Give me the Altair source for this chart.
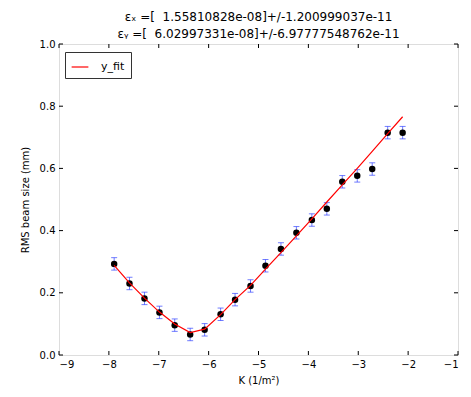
import altair as alt
import pandas as pd

# data
k_vals = [-7.894, -7.587, -7.286, -6.986, -6.68, -6.37, -6.08, -5.76, -5.47, -5.16,
          -4.86, -4.55, -4.24, -3.93, -3.63, -3.32, -3.02, -2.72, -2.41, -2.11]
rms_vals = [0.293, 0.230, 0.182, 0.137, 0.096, 0.066, 0.081, 0.131, 0.178, 0.222,
            0.287, 0.341, 0.393, 0.434, 0.470, 0.557, 0.576, 0.598, 0.715, 0.715]
fit_vals = [0.288, 0.232, 0.183, 0.138, 0.100, 0.072, 0.083, 0.130, 0.178, 0.224,
            0.276, 0.329, 0.383, 0.438, 0.492, 0.547, 0.600, 0.655, 0.712, 0.766]
err_vals = [0.02] * 20

x_ticks = [-9, -8, -7, -6, -5, -4, -3, -2, -1]
y_ticks = [0.0, 0.2, 0.4, 0.6, 0.8, 1.0]

title_lines = ["εₓ =[\u00a0 1.55810828e-08]+/-1.200999037e-11",
               "εᵧ =[\u00a0 6.02997331e-08]+/-6.97777548762e-11"]

W, H = 399, 311
FONT = "DejaVu Sans"

df = pd.DataFrame({"K": k_vals, "rms": rms_vals, "fit": fit_vals, "err": err_vals})
df["lo"] = df["rms"] - df["err"]
df["hi"] = df["rms"] + df["err"]
df["series"] = "y_fit"

xs = alt.Scale(domain=[-9, -1], nice=False, zero=False)
ys = alt.Scale(domain=[0, 1.0], nice=False, zero=False)

xaxis = alt.Axis(values=x_ticks, format="d", ticks=False, grid=False, domain=False,
                 labelFont=FONT, labelFontSize=10, labelColor="black", labelPadding=4,
                 title="K (1/m²)", titleFont=FONT, titleFontSize=10, titleFontWeight="normal",
                 titleColor="black", titlePadding=6)
yaxis = alt.Axis(values=y_ticks, format=".1f", ticks=False, grid=False, domain=False,
                 labelFont=FONT, labelFontSize=10, labelColor="black", labelPadding=4,
                 title="RMS beam size (mm)", titleFont=FONT, titleFontSize=10,
                 titleFontWeight="normal", titleColor="black", titlePadding=9)

base = alt.Chart(df)

ERR_COLOR = "#3344ff"
bars = base.mark_rule(color=ERR_COLOR, opacity=0.7, strokeWidth=1).encode(
    x=alt.X("K:Q", scale=xs, axis=xaxis),
    y=alt.Y("lo:Q", scale=ys, axis=yaxis),
    y2="hi:Q",
)
caps_lo = base.mark_tick(color=ERR_COLOR, opacity=0.7, orient="horizontal",
                         size=6, thickness=1).encode(x="K:Q", y="lo:Q")
caps_hi = base.mark_tick(color=ERR_COLOR, opacity=0.7, orient="horizontal",
                         size=6, thickness=1).encode(x="K:Q", y="hi:Q")
pts = base.mark_circle(color="black", opacity=1, size=42).encode(x="K:Q", y="rms:Q")
line = base.mark_line(strokeWidth=1.2).encode(
    x="K:Q", y="fit:Q",
    color=alt.Color("series:N", scale=alt.Scale(domain=["y_fit"], range=["red"]),
                    legend=alt.Legend(title=None, orient="none", legendX=6, legendY=8,
                                      symbolType="stroke", symbolSize=280,
                                      symbolStrokeWidth=1.2, labelFont=FONT,
                                      labelFontSize=11, labelColor="black",
                                      strokeColor="#333", fillColor="white",
                                      padding=6, cornerRadius=0, labelOffset=12,
                                      rowPadding=0)),
)

xt = pd.DataFrame({"v": x_ticks})
yt = pd.DataFrame({"v": y_ticks})
tick_style = dict(color="black", strokeWidth=1)
xt_bot = alt.Chart(xt).mark_rule(**tick_style).encode(
    x=alt.X("v:Q", scale=xs), y=alt.value(H), y2=alt.value(H - 4))
xt_top = alt.Chart(xt).mark_rule(**tick_style).encode(
    x=alt.X("v:Q", scale=xs), y=alt.value(0), y2=alt.value(4))
yt_left = alt.Chart(yt).mark_rule(**tick_style).encode(
    y=alt.Y("v:Q", scale=ys), x=alt.value(0), x2=alt.value(4))
yt_right = alt.Chart(yt).mark_rule(**tick_style).encode(
    y=alt.Y("v:Q", scale=ys), x=alt.value(W), x2=alt.value(W - 4))

chart = alt.layer(bars, caps_lo, caps_hi, pts, line, xt_bot, xt_top, yt_left, yt_right).properties(
    width=W, height=H,
    title=alt.TitleParams(text=title_lines, font=FONT, fontSize=12, fontWeight="normal",
                          color="black", anchor="middle", offset=-2, lineHeight=17),
    autosize=alt.AutoSizeParams(type="none"),
    padding={"left": 51, "top": 36, "right": 5, "bottom": 35},
).configure_view(stroke="#222", strokeWidth=1.2).configure(background="white")

chart.save("out.html", embed_options={"renderer": "svg", "actions": False})
